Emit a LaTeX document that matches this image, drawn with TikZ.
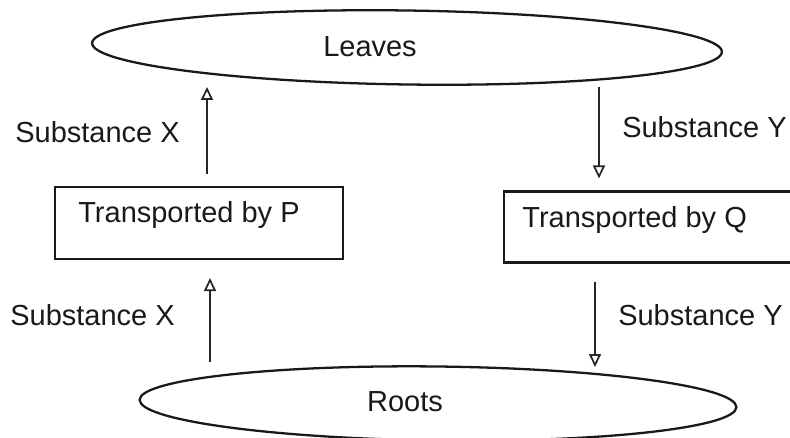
\documentclass[tikz,border=0pt]{standalone}
\usepackage{fontspec}
\setmainfont{Liberation Sans}
\usetikzlibrary{shapes.geometric,arrows.meta,calc}

\begin{document}
\begin{tikzpicture}[
    x=0.02cm,y=-0.02cm,
    flow/.style={-{Triangle[open,length=0.26cm,width=0.24cm,line width=1pt]}, line width=1pt, draw=black!85},
    organ/.style={
        ellipse,
        draw=black!90,
        line width=1.3pt,
        inner sep=0pt
    },
    tbox/.style={
        rectangle,
        draw=black!90,
        line width=1.2pt,
        inner sep=0pt
    },
    lbl/.style={
        inner sep=0pt,
        text=black!90,
        font=\fontsize{16.5}{20}\selectfont
    }
]
    \useasboundingbox (0,0) rectangle (790,438);

    \node[organ, minimum width=12.6cm, minimum height=1.48cm, rotate=-0.8] (leaves) at (407,47.5) {};
    \node[organ, minimum width=11.94cm, minimum height=1.48cm, rotate=-0.7] (roots) at (438,403.5) {};

    \node[lbl] (leavestxt) at (370,47) {Leaves};
    \node[lbl] (rootstxt) at (405,402) {Roots};

    \node[tbox, minimum width=5.76cm, minimum height=1.44cm] (boxP) at (199,223) {};
    \node[tbox, minimum width=5.92cm, minimum height=1.42cm] (boxQ) at (652,227) {};

    \node[lbl, anchor=west] (txtP) at (78,215) {Transported by P};
    \node[lbl, anchor=west] (txtQ) at (522,220) {Transported by Q};

    \coordinate (leafX) at (207,87);
    \coordinate (leafY) at (599,87);
    \coordinate (rootX) at (210,362);
    \coordinate (rootY) at (595,367);

    % substance X goes up, substance Y goes down
    \draw[flow] ($(boxP.north -| leafX)+(0,-12)$) -- (leafX);
    \draw[flow] (rootX) -- ($(boxP.south -| rootX)+(0,18)$);
    \draw[flow] (leafY) -- ($(boxQ.north -| leafY)+(0,-12)$);
    \draw[flow] ($(boxQ.south -| rootY)+(0,18)$) -- (rootY);

    \node[lbl, anchor=west] (sx1) at (15,132) {Substance X};
    \node[lbl, anchor=west] (sx2) at (10,315) {Substance X};
    \node[lbl, anchor=east] (sy1) at (787,127) {Substance Y};
    \node[lbl, anchor=east] (sy2) at (783,315) {Substance Y};

\end{tikzpicture}
\end{document}
